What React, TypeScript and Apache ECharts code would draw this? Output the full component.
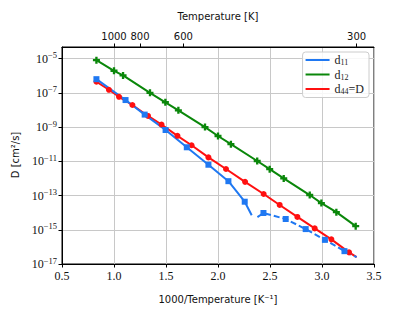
import React, { useEffect, useRef } from "react";
import * as echarts from "echarts";

// 1000/T values (x) and log10 D exponents (y)
const d12InvT = [0.831, 1.0, 1.087, 1.346, 1.494, 1.619, 1.875, 2.0, 2.124, 2.377, 2.497, 2.632, 2.882, 2.994, 3.138, 3.324];
const d12Log = [-5.09, -5.71, -5.98, -7.0, -7.55, -8.02, -9.0, -9.52, -10.0, -10.98, -11.46, -12.0, -12.97, -13.44, -13.97, -14.79];

const d44InvT = [0.831, 0.951, 1.048, 1.177, 1.327, 1.457, 1.61, 1.746, 1.908, 2.077, 2.26, 2.439, 2.593, 2.763, 2.93, 3.09, 3.26, 3.333];
const d44Log = [-6.35, -6.82, -7.23, -7.71, -8.35, -8.85, -9.51, -10.06, -10.77, -11.45, -12.2, -12.91, -13.55, -14.25, -14.92, -15.56, -16.32, -16.6];
const d44Mark = [1, 1, 1, 1, 1, 1, 1, 1, 1, 1, 1, 1, 1, 1, 1, 1, 1, 0];

const d11HighInvT = [0.831, 1.111, 1.295, 1.496, 1.7, 1.908, 2.1, 2.257, 2.324];
const d11HighLog = [-6.2, -7.42, -8.27, -9.17, -10.18, -11.2, -12.16, -13.36, -14.15];
const d11HighMark = [1, 1, 1, 1, 1, 1, 1, 1, 0];

const d11LowInvT = [2.379, 2.437, 2.651, 2.843, 3.028, 3.216, 3.333];
const d11LowLog = [-14.26, -14.02, -14.37, -14.96, -15.59, -16.25, -16.6];
const d11LowMark = [0, 1, 1, 1, 1, 1, 0];

const yTickExps = [-17, -15, -13, -11, -9, -7, -5];
const topTempTicks = [1000, 800, 600, 300];

const BLUE = "#1f78f2";
const GREEN = "#0a870a";
const RED = "#ff1010";
const PLUS = "path://M3,0H6V3H9V6H6V9H3V6H0V3H3Z";

function pts(xs: number[], ys: number[], marks?: number[]) {
  return xs.map((x, i) =>
    marks && !marks[i] ? { value: [x, ys[i]], symbol: "none" } : { value: [x, ys[i]] }
  );
}

export default function App() {
  const ref = useRef<HTMLDivElement>(null);
  useEffect(() => {
    const chart = echarts.init(ref.current!, undefined, { renderer: "svg" });
    const serif = "Liberation Serif";
    const sans = "DejaVu Sans";
    chart.setOption({
      animation: false,
      grid: { left: 62, right: 41, top: 47, bottom: 48, show: true, borderColor: "#000", borderWidth: 1, backgroundColor: "transparent" },
      legend: {
        orient: "vertical",
        right: 46,
        top: 52,
        data: [
          { name: "d11", icon: "rect" },
          { name: "d12", icon: "rect" },
          { name: "d44", icon: "rect" },
        ],
        itemWidth: 24,
        itemHeight: 2,
        itemGap: 2,
        padding: [2, 5, 2, 3],
        borderColor: "#cccccc",
        borderWidth: 1,
        borderRadius: 3,
        backgroundColor: "rgba(255,255,255,0.85)",
        formatter: (name: string) =>
          name === "d44" ? "{d|d}{s|44}{d|=D}" : `{d|d}{s|${name.slice(1)}}`,
        textStyle: {
          rich: {
            d: { fontFamily: serif, fontSize: 12, color: "#222" },
            s: { fontFamily: serif, fontSize: 8, color: "#222", padding: [5, 0, 0, 0] },
          },
        },
      },
      xAxis: [
        {
          type: "value",
          position: "bottom",
          min: 0.5,
          max: 3.5,
          interval: 0.5,
          axisLine: { lineStyle: { color: "#000", width: 1 } },
          axisTick: { show: true, length: 3.5, lineStyle: { color: "#000" } },
          axisLabel: { fontFamily: serif, fontSize: 12, color: "#111", margin: 6, formatter: (v: number) => v.toFixed(1) },
          splitLine: { show: true, lineStyle: { color: "#c8c8c8", width: 1 } },
        },
        {
          type: "value",
          position: "top",
          min: 0.5,
          max: 3.5,
          axisLine: { lineStyle: { color: "#000", width: 1 } },
          axisTick: { show: true, length: 3.5, lineStyle: { color: "#000" }, customValues: topTempTicks.map((t) => 1000 / t) },
          axisLabel: {
            fontFamily: sans,
            fontSize: 10,
            color: "#111",
            margin: 6,
            customValues: topTempTicks.map((t) => 1000 / t),
            formatter: (v: number) => String(Math.round(1000 / v)),
          },
          splitLine: { show: false },
        },
      ],
      yAxis: {
        type: "value",
        min: -17,
        max: -4.32,
        axisLine: { show: true, lineStyle: { color: "#000", width: 1 } },
        axisTick: { show: true, length: 3.5, lineStyle: { color: "#000" }, customValues: yTickExps },
        axisLabel: {
          customValues: yTickExps,
          margin: 5,
          formatter: (v: number) => `{b|10}{e|−${Math.abs(Math.round(v))}}`,
          rich: {
            b: { fontFamily: serif, fontSize: 12, color: "#111" },
            e: { fontFamily: serif, fontSize: 8.5, color: "#111", padding: [0, 0, 7, 0] },
          },
        },
        splitLine: { show: true, lineStyle: { color: "#c8c8c8", width: 1 } },
      },
      graphic: [
        { type: "text", x: 218, y: 16, style: { text: "Temperature [K]", fontFamily: sans, fontSize: 10, fill: "#111", textAlign: "center", textVerticalAlign: "middle" } },
        { type: "text", x: 218, y: 299, style: { text: "1000/Temperature [K⁻¹]", fontFamily: sans, fontSize: 10, fill: "#111", textAlign: "center", textVerticalAlign: "middle" } },
        { type: "text", x: 15, y: 155, rotation: Math.PI / 2, style: { text: "D [cm²/s]", fontFamily: sans, fontSize: 10, fill: "#111", textAlign: "center", textVerticalAlign: "middle" } },
      ],
      series: [
        {
          name: "d44",
          type: "line",
          data: pts(d44InvT, d44Log, d44Mark),
          color: RED,
          lineStyle: { width: 2, color: RED },
          symbol: "circle",
          symbolSize: 6,
          itemStyle: { color: RED },
        },
        {
          name: "d11",
          type: "line",
          data: pts(d11HighInvT, d11HighLog, d11HighMark),
          color: BLUE,
          lineStyle: { width: 2, color: BLUE },
          symbol: "rect",
          symbolSize: 6,
          itemStyle: { color: BLUE },
        },
        {
          name: "d11 low",
          type: "line",
          data: pts(d11LowInvT, d11LowLog, d11LowMark),
          color: BLUE,
          lineStyle: { width: 2, color: BLUE, type: [6, 3] },
          symbol: "rect",
          symbolSize: 6,
          itemStyle: { color: BLUE },
        },
        {
          name: "d12",
          type: "line",
          data: pts(d12InvT, d12Log),
          color: GREEN,
          lineStyle: { width: 2, color: GREEN },
          symbol: PLUS,
          symbolSize: 7,
          itemStyle: { color: GREEN },
        },
      ],
    });
    return () => chart.dispose();
  }, []);
  return <div ref={ref} style={{ position: "absolute", left: 0, top: 0, width: 415, height: 312 }} />;
}
